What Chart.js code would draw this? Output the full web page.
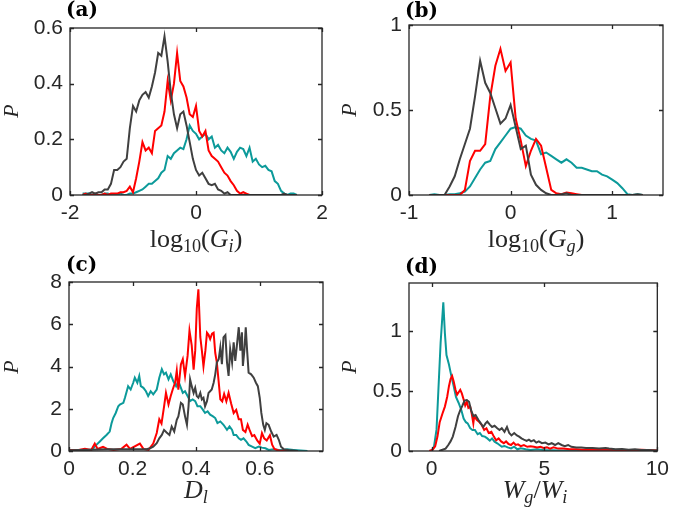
<!DOCTYPE html>
<html>
<head>
<meta charset="utf-8">
<script src="https://cdn.jsdelivr.net/npm/chart.js@4.4.1/dist/chart.umd.min.js"></script>
<style>
  body { margin: 0; background: #fff; }
  #page { position: relative; width: 675px; height: 513px; overflow: hidden; background: #fff; }
  canvas { position: absolute; }
  .pl { position: absolute; font: bold 20px "DejaVu Serif", serif; color: #000; line-height: 1; }
  .xt { position: absolute; font: 26px "Liberation Serif", serif; color: #262626; line-height: 1; white-space: nowrap; transform: translateX(-50%); }
  .yt { position: absolute; font: italic 22px "Liberation Serif", serif; color: #262626; line-height: 1; transform: translate(-50%, -50%) rotate(-90deg); }
  sub { font-size: 70%; vertical-align: baseline; position: relative; top: 0.25em; line-height: 0; }
</style>
</head>
<body>
<div id="page">
  <canvas id="chartA" width="337" height="256" style="left:0;top:0"></canvas>
  <canvas id="chartB" width="338" height="256" style="left:337px;top:0"></canvas>
  <canvas id="chartC" width="337" height="257" style="left:0;top:256px"></canvas>
  <canvas id="chartD" width="338" height="257" style="left:337px;top:256px"></canvas>

  <div class="pl" style="left:66px;top:-1px">(a)</div>
  <div class="pl" style="left:405px;top:0px">(b)</div>
  <div class="pl" style="left:66px;top:254px">(c)</div>
  <div class="pl" style="left:405px;top:256px">(d)</div>

  <div class="xt" style="left:196px;top:226px">log<sub>10</sub>(<i>G</i><sub><i>i</i></sub>)</div>
  <div class="xt" style="left:536px;top:226px">log<sub>10</sub>(<i>G</i><sub><i>g</i></sub>)</div>
  <div class="xt" style="left:196px;top:477px"><i>D</i><sub><i>l</i></sub></div>
  <div class="xt" style="left:535px;top:477px"><i>W</i><sub><i>g</i></sub>/<i>W</i><sub><i>i</i></sub></div>

  <div class="yt" style="left:11px;top:111px">P</div>
  <div class="yt" style="left:349px;top:110px">P</div>
  <div class="yt" style="left:11px;top:367px">P</div>
  <div class="yt" style="left:349px;top:367px">P</div>
</div>

<script>
// Colours
const GRAY = '#404040';
const RED = '#ff0000';
const TEAL = '#0c9a9a';

// Panel (a): log10(G_i)
const aBins = [-1.8,-1.75,-1.7,-1.65,-1.6,-1.55,-1.5,-1.45,-1.4,-1.35,-1.3,-1.25,-1.2,-1.15,-1.1,-1.05,-1,-0.95,-0.9,-0.85,
  -0.8,-0.75,-0.7,-0.65,-0.6,-0.55,-0.5,-0.45,-0.4,-0.35,-0.3,-0.25,-0.2,-0.15,-0.1,-0.05,0,0.05,0.1,0.15,
  0.2,0.25,0.3,0.35,0.4,0.45,0.5,0.55,0.6,0.65,0.7,0.75,0.8,0.85,0.9,0.95,1,1.05,1.1,1.15,
  1.2,1.25,1.3,1.35,1.4,1.45,1.5,1.55,1.6];
const aGray = [0,0,0.005,0.01,0.005,0.01,0.01,0.02,0.02,0.04, 0.09,0.09,0.10,0.12,0.13,0.24,0.32,0.30,0.34,0.36,
  0.37,0.35,0.39,0.44,0.51,0.50,0.57,0.48,0.37,0.29, 0.24,0.29,0.30,0.25,0.19,0.13,0.09,0.07,0.08,0.06,
  0.04,0.035,0.04,0.02,0.015,0.005,0.01,0,0,0, 0,0,0,0,0,0,0,0,0,0, 0,0,0,0,0.005,0,0,0,0];
const aRed = [0,0.005,0,0,0.005,0,0,0.005,0,0.005, 0.005,0.005,0.01,0.01,0.015,0.03,0.01,0.06,0.12,0.19,
  0.16,0.17,0.15,0.23,0.24,0.25,0.30,0.41,0.34,0.40, 0.51,0.41,0.39,0.35,0.29,0.28,0.32,0.23,0.21,0.23,
  0.16,0.14,0.13,0.12,0.10,0.08,0.07,0.05,0.035,0.015, 0.005,0.01,0.005,0,0,0,0,0,0,0, 0,0,0,0,0,0,0,0,0];
const aTeal = [0.005,0.005,0.005,0,0,0,0,0.005,0.005,0, 0,0,0.005,0,0,0.005,0.005,0.01,0.015,0.02,
  0.03,0.04,0.04,0.05,0.06,0.08,0.09,0.14,0.13,0.15, 0.16,0.17,0.165,0.20,0.25,0.23,0.22,0.20,0.21,0.22,
  0.20,0.21,0.17,0.18,0.16,0.15,0.17,0.155,0.13,0.155, 0.17,0.165,0.14,0.17,0.12,0.13,0.11,0.10,0.105,0.09,
  0.085,0.05,0.04,0.015,0.005,0,0.005,0.005,0];

// Panel (b): log10(G_g)
const bBins = [-0.8,-0.75,-0.7,-0.65,-0.6,-0.55,-0.5,-0.45,-0.4,-0.35,-0.3,-0.25,-0.2,-0.15,-0.1,-0.05,0,0.05,0.1,0.15,
  0.2,0.25,0.3,0.35,0.4,0.45,0.5,0.55,0.6,0.65,0.7,0.75,0.8,0.85,0.9,0.95,1,1.05,1.1,1.15,1.2,1.25,1.3];
const bGray = [0,0,0,0,0.05,0.11,0.21,0.30,0.39,0.58, 0.79,0.66,0.60,0.51,0.42,0.45,0.53,0.40,0.27,0.29,
  0.12,0.06,0.03,0.01,0,0,0.005,0.01,0,0, 0,0,0,0,0,0,0,0,0,0, 0,0.005,0];
const bRed = [0,0,0,0,0,0,0,0.03,0.20,0.26, 0.26,0.30,0.58,0.76,0.86,0.73,0.78,0.45,0.32,0.17,
  0.26,0.33,0.29,0.16,0.03,0.01,0.005,0.015,0.01,0.005, 0,0,0,0,0,0,0,0,0,0, 0,0,0];
const bTeal = [0,0.005,0,0,0.005,0.005,0.01,0.02,0.05,0.10, 0.15,0.19,0.20,0.27,0.31,0.35,0.39,0.40,0.39,0.35,
  0.33,0.32,0.24,0.25,0.23,0.21,0.19,0.21,0.19,0.16, 0.16,0.15,0.14,0.14,0.12,0.11,0.09,0.07,0.04,0.005,
  0,0.005,0];

// Panel (c): D_l
const cTealX = [0,0.07,0.076,0.086,0.097,0.107,0.118,0.128,0.134,0.139,0.147,0.155,0.16,0.171,0.176,0.186,0.194,0.202,0.207,0.215,
  0.221,0.226,0.234,0.242,0.249,0.257,0.265,0.276,0.284,0.292,0.299,0.305,0.313,0.32,0.328,0.337,0.344,0.352,0.358,0.365,
  0.373,0.381,0.389,0.397,0.404,0.413,0.421,0.428,0.436,0.444,0.453,0.46,0.467,0.476,0.486,0.497,0.505,0.513,0.518,0.526,
  0.534,0.541,0.549,0.558,0.565,0.576,0.586,0.597,0.607,0.618,0.628,0.644,0.66,0.676,0.686,0.707,0.75];
const cTealY = [0.05,0.05,0.13,0.29,0.45,0.6,0.76,0.92,1.32,1.56,1.8,2.12,2.2,2.28,2.52,3.07,2.91,3.23,3.47,3.23,
  3.55,3.07,2.99,2.83,2.6,2.83,2.68,2.91,3.47,3.87,3.63,3.71,3.39,3.63,3.31,3.07,3.31,2.99,2.75,2.83,
  2.6,2.36,2.44,2.36,2.12,2.12,1.96,1.8,1.88,1.72,1.64,1.56,1.32,1.4,1.24,1.0,1.16,1.0,0.76,0.76,
  0.6,0.53,0.6,0.45,0.29,0.21,0.13,0.21,0.16,0.13,0.05,0.08,0.05,0.05,0.08,0.05,0];
const cRedX = [0,0.03,0.05,0.07,0.081,0.09,0.107,0.12,0.14,0.165,0.181,0.192,0.223,0.234,0.25,0.265,0.276,0.284,0.291,0.299,
  0.305,0.313,0.32,0.326,0.334,0.339,0.344,0.352,0.358,0.365,0.373,0.379,0.386,0.392,0.397,0.402,0.407,0.413,0.418,0.423,
  0.429,0.434,0.439,0.444,0.45,0.455,0.46,0.465,0.471,0.476,0.482,0.488,0.495,0.502,0.51,0.518,0.526,0.534,0.541,0.547,
  0.555,0.562,0.568,0.576,0.583,0.592,0.6,0.607,0.614,0.622,0.632,0.639,0.646,0.655,0.665,0.68,0.69];
const cRedY = [0.05,0.05,0.1,0.05,0.35,0.1,0.2,0.1,0.05,0.1,0.3,0.1,0.35,0.1,0.05,0.35,0.85,1.5,1.3,2.1,
  2.75,2.2,2.6,2.9,3.25,3.8,2.9,4.1,4.35,3.55,4.5,5.7,5.0,3.85,4.75,6.75,7.65,5.4,4.75,4.0,
  4.75,5.6,5.5,5.3,5.55,5.6,4.65,4.2,3.25,2.45,2.35,2.7,2.35,2.75,2.25,1.8,1.95,1.5,1.5,1.0,
  0.9,1.25,1.0,0.7,0.75,0.5,0.35,0.85,0.6,0.5,0.75,0.3,0.1,0.05,0,0.05,0];
const cGrayX = [0,0.12,0.18,0.244,0.255,0.265,0.276,0.284,0.292,0.299,0.307,0.316,0.323,0.331,0.339,0.344,0.352,0.358,0.365,0.371,
  0.376,0.381,0.386,0.392,0.397,0.402,0.407,0.413,0.418,0.423,0.428,0.434,0.439,0.444,0.449,0.455,0.46,0.465,0.471,0.476,
  0.481,0.486,0.492,0.497,0.502,0.507,0.513,0.518,0.523,0.528,0.534,0.539,0.544,0.547,0.552,0.556,0.56,0.565,0.573,0.581,
  0.588,0.594,0.6,0.605,0.611,0.616,0.621,0.628,0.636,0.644,0.653,0.66,0.667,0.676,0.697,0.72];
const cGrayY = [0.03,0.08,0.08,0.08,0.13,0.2,0.37,0.6,0.76,1.0,0.88,0.76,1.16,0.92,1.48,1.64,2.28,2.2,1.64,1.24,
  2.12,3.39,3.07,2.75,2.99,2.6,2.52,2.75,2.44,2.52,2.12,2.36,2.75,2.83,2.91,3.23,3.63,4.19,4.35,4.9,
  4.11,5.38,5.49,4.19,3.55,4.82,4.19,5.14,4.27,4.98,5.86,4.75,5.62,4.03,4.82,5.86,4.82,3.71,3.63,3.47,
  3.23,3.07,2.52,1.8,1.24,1.0,1.32,1.24,0.92,0.68,0.76,0.53,0.2,0.08,0.03,0];

// Panel (d): W_g / W_i
const dTealX = [0,0.11,0.22,0.30,0.40,0.52,0.59,0.66,0.77,0.87,0.98,1.08,1.2,1.32,1.42,1.52,1.6,1.71,1.81,1.92,
  2.04,2.14,2.24,2.36,2.47,2.58,2.68,2.79,2.91,3.01,3.11,3.23,3.37,3.52,3.66,3.8,3.95,4.17,4.38,4.67,
  4.96,5.69,6.41,7.86,10];
const dTealY = [0,0.04,0.18,0.5,0.9,1.24,0.98,0.8,0.72,0.63,0.54,0.45,0.4,0.34,0.27,0.24,0.23,0.19,0.175,0.175,
  0.14,0.15,0.125,0.12,0.105,0.086,0.105,0.078,0.064,0.05,0.036,0.042,0.03,0.022,0.036,0.014,0.022,0.014,0.008,0.014,
  0.008,0.005,0.003,0.003,0.003];
const dRedX = [-0.1,0.04,0.16,0.26,0.36,0.48,0.59,0.69,0.77,0.84,0.91,0.98,1.06,1.13,1.2,1.27,1.34,1.42,1.49,1.56,
  1.63,1.71,1.78,1.85,1.89,2.0,2.1,2.21,2.33,2.43,2.53,2.65,2.76,2.86,2.97,3.08,3.2,3.3,3.4,3.52,
  3.63,3.73,3.83,3.95,4.09,4.24,4.38,4.53,4.67,4.82,4.96,5.11,5.25,5.4,5.61,5.83,6.12,6.41,6.7,7.13,
  7.86,8.58,9.3,10];
const dRedY = [0,0.01,0.04,0.12,0.24,0.31,0.37,0.45,0.54,0.60,0.625,0.58,0.51,0.47,0.49,0.51,0.48,0.43,0.38,0.41,
  0.36,0.37,0.31,0.23,0.29,0.26,0.245,0.22,0.175,0.19,0.15,0.16,0.12,0.09,0.105,0.08,0.065,0.08,0.06,0.05,
  0.07,0.05,0.055,0.04,0.05,0.035,0.04,0.035,0.03,0.035,0.025,0.03,0.02,0.03,0.02,0.02,0.015,0.015,0.01,0.01,
  0.01,0.005,0.01,0.005];
const dGrayX = [0.33,0.48,0.62,0.74,0.84,0.94,1.06,1.17,1.27,1.37,1.46,1.56,1.66,1.75,1.85,1.95,2.07,2.18,2.29,2.39,
  2.47,2.58,2.68,2.79,2.91,3.01,3.11,3.23,3.34,3.44,3.54,3.66,3.78,3.88,3.98,4.09,4.21,4.31,4.41,4.53,
  4.64,4.75,4.89,5.04,5.18,5.32,5.47,5.61,5.76,5.9,6.05,6.19,6.41,6.63,6.84,7.13,7.42,7.71,7.86,8.15,
  8.44,8.73,9.01,9.3,9.59,10];
const dGrayY = [0,0.01,0.02,0.05,0.08,0.12,0.2,0.29,0.34,0.38,0.42,0.425,0.41,0.34,0.29,0.30,0.26,0.23,0.20,0.23,
  0.245,0.22,0.20,0.21,0.19,0.175,0.19,0.16,0.20,0.15,0.13,0.15,0.13,0.12,0.105,0.095,0.085,0.095,0.08,0.09,
  0.07,0.08,0.065,0.07,0.055,0.065,0.05,0.065,0.05,0.04,0.05,0.035,0.03,0.03,0.025,0.025,0.02,0.025,0.02,0.015,
  0.017,0.01,0.014,0.008,0.008,0.005];

// Helpers
const pts = (xs, ys) => xs.map((x, i) => ({ x: x, y: ys[i] }));
const line = (data, color) => ({ data: data, borderColor: color, borderWidth: 2, pointRadius: 0, tension: 0, fill: false });
const fmt = v => String(+Number(v).toFixed(3));

Chart.defaults.font.family = '"Liberation Sans", Arial, sans-serif';
Chart.defaults.font.size = 21;
Chart.defaults.color = '#262626';

// inside tick marks on all four sides + full box
const boxTicks = {
  id: 'boxTicks',
  afterDatasetsDraw(chart) {
    const { ctx, chartArea: a, scales: { x, y } } = chart;
    const len = 4;
    ctx.save();
    ctx.strokeStyle = '#262626';
    ctx.lineWidth = 1.3;
    ctx.beginPath();
    x.ticks.forEach(t => {
      const px = Math.round(x.getPixelForValue(t.value)) + 0.5;
      ctx.moveTo(px, a.bottom); ctx.lineTo(px, a.bottom - len);
      ctx.moveTo(px, a.top); ctx.lineTo(px, a.top + len);
    });
    y.ticks.forEach(t => {
      const py = Math.round(y.getPixelForValue(t.value)) + 0.5;
      ctx.moveTo(a.left, py); ctx.lineTo(a.left + len, py);
      ctx.moveTo(a.right, py); ctx.lineTo(a.right - len, py);
    });
    ctx.stroke();
    ctx.strokeRect(a.left, a.top, a.right - a.left, a.bottom - a.top);
    ctx.restore();
  }
};

function makePanel(id, cv, box, xs, ys, datasets) {
  new Chart(document.getElementById(id), {
    type: 'line',
    data: { datasets: datasets },
    plugins: [boxTicks],
    options: {
      responsive: false,
      animation: false,
      devicePixelRatio: 1,
      layout: { padding: { left: 0, bottom: 0, top: box.t - cv.t, right: cv.l + cv.w - box.r } },
      plugins: { legend: { display: false }, tooltip: { enabled: false } },
      scales: {
        x: {
          type: 'linear', min: xs.min, max: xs.max,
          grid: { display: false, drawTicks: false },
          border: { display: false },
          ticks: { stepSize: xs.step, includeBounds: false, padding: 6, maxRotation: 0, autoSkip: false, callback: fmt },
          afterFit: s => { s.height = cv.t + cv.h - box.b; }
        },
        y: {
          type: 'linear', min: ys.min, max: ys.max,
          grid: { display: false, drawTicks: false },
          border: { display: false },
          ticks: { stepSize: ys.step, includeBounds: false, padding: 7, autoSkip: false, callback: fmt },
          afterFit: s => { s.width = box.l - cv.l; }
        }
      }
    }
  });
}

makePanel('chartA', { l: 0, t: 0, w: 337, h: 256 }, { l: 70, t: 28, r: 322, b: 195 },
  { min: -2, max: 2, step: 2 }, { min: 0, max: 0.6, step: 0.2 },
  [line(pts(aBins, aGray), GRAY), line(pts(aBins, aRed), RED), line(pts(aBins, aTeal), TEAL)]);

makePanel('chartB', { l: 337, t: 0, w: 338, h: 256 }, { l: 409, t: 25, r: 663, b: 195 },
  { min: -1, max: 1.5, step: 1 }, { min: 0, max: 1, step: 0.5 },
  [line(pts(bBins, bGray), GRAY), line(pts(bBins, bRed), RED), line(pts(bBins, bTeal), TEAL)]);

makePanel('chartC', { l: 0, t: 256, w: 337, h: 257 }, { l: 69, t: 282, r: 323, b: 451 },
  { min: 0, max: 0.799, step: 0.2 }, { min: 0, max: 8, step: 2 },
  [line(pts(cGrayX, cGrayY), GRAY), line(pts(cRedX, cRedY), RED), line(pts(cTealX, cTealY), TEAL)]);

makePanel('chartD', { l: 337, t: 256, w: 338, h: 257 }, { l: 409, t: 283, r: 663, b: 451 },
  { min: -1, max: 10, step: 5 }, { min: 0, max: 1.4, step: 0.5 },
  [line(pts(dGrayX, dGrayY), GRAY), line(pts(dRedX, dRedY), RED), line(pts(dTealX, dTealY), TEAL)]);
</script>
</body>
</html>
